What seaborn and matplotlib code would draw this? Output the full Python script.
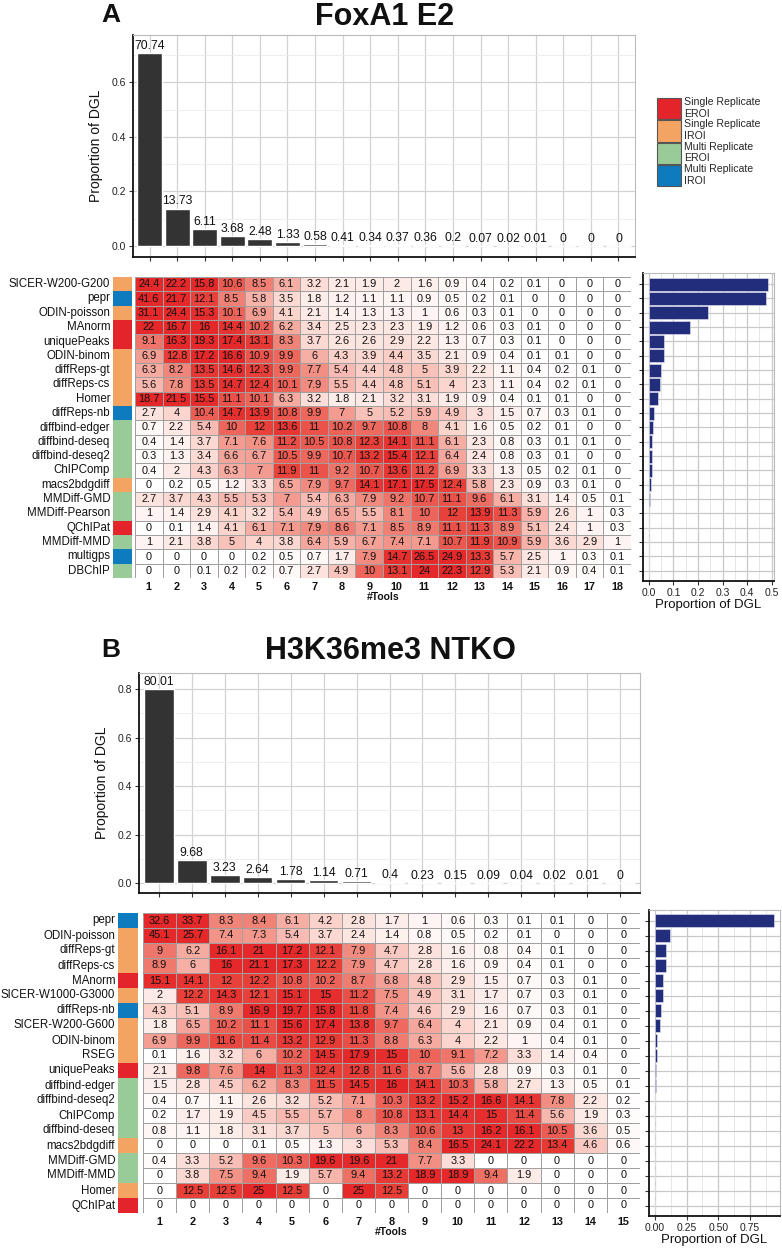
import numpy as np
import pandas as pd
import matplotlib
matplotlib.use("Agg")
import matplotlib.pyplot as plt
import seaborn as sns
from matplotlib.colors import LinearSegmentedColormap, ListedColormap
from matplotlib.ticker import MultipleLocator
from matplotlib.patches import Patch

# ---------------- data: panel A (FoxA1 E2) ----------------
a_title = "FoxA1 E2"
a_dgl_pct = [70.74, 13.73, 6.11, 3.68, 2.48, 1.33, 0.58, 0.41, 0.34, 0.37, 0.36, 0.2,
             0.07, 0.02, 0.01, 0, 0, 0]
a_tools = ["SICER-W200-G200", "pepr", "ODIN-poisson", "MAnorm", "uniquePeaks", "ODIN-binom",
           "diffReps-gt", "diffReps-cs", "Homer", "diffReps-nb", "diffbind-edger",
           "diffbind-deseq", "diffbind-deseq2", "ChIPComp", "macs2bdgdiff", "MMDiff-GMD",
           "MMDiff-Pearson", "QChIPat", "MMDiff-MMD", "multigps", "DBChIP"]
a_groups = ["SR-IROI", "MR-IROI", "SR-IROI", "SR-EROI", "SR-EROI", "SR-IROI",
            "SR-IROI", "SR-IROI", "SR-IROI", "MR-IROI", "MR-EROI",
            "MR-EROI", "MR-EROI", "MR-EROI", "SR-IROI", "MR-EROI",
            "MR-EROI", "SR-EROI", "MR-EROI", "MR-IROI", "MR-EROI"]
a_matrix = [
    [24.4, 22.2, 15.8, 10.6, 8.5, 6.1, 3.2, 2.1, 1.9, 2, 1.6, 0.9, 0.4, 0.2, 0.1, 0, 0, 0],
    [41.6, 21.7, 12.1, 8.5, 5.8, 3.5, 1.8, 1.2, 1.1, 1.1, 0.9, 0.5, 0.2, 0.1, 0, 0, 0, 0],
    [31.1, 24.4, 15.3, 10.1, 6.9, 4.1, 2.1, 1.4, 1.3, 1.3, 1, 0.6, 0.3, 0.1, 0, 0, 0, 0],
    [22, 16.7, 16, 14.4, 10.2, 6.2, 3.4, 2.5, 2.3, 2.3, 1.9, 1.2, 0.6, 0.3, 0.1, 0, 0, 0],
    [9.1, 16.3, 19.3, 17.4, 13.1, 8.3, 3.7, 2.6, 2.6, 2.9, 2.2, 1.3, 0.7, 0.3, 0.1, 0, 0, 0],
    [6.9, 12.8, 17.2, 16.6, 10.9, 9.9, 6, 4.3, 3.9, 4.4, 3.5, 2.1, 0.9, 0.4, 0.1, 0.1, 0, 0],
    [6.3, 8.2, 13.5, 14.6, 12.3, 9.9, 7.7, 5.4, 4.4, 4.8, 5, 3.9, 2.2, 1.1, 0.4, 0.2, 0.1, 0],
    [5.6, 7.8, 13.5, 14.7, 12.4, 10.1, 7.9, 5.5, 4.4, 4.8, 5.1, 4, 2.3, 1.1, 0.4, 0.2, 0.1, 0],
    [18.7, 21.5, 15.5, 11.1, 10.1, 6.3, 3.2, 1.8, 2.1, 3.2, 3.1, 1.9, 0.9, 0.4, 0.1, 0.1, 0, 0],
    [2.7, 4, 10.4, 14.7, 13.9, 10.8, 9.9, 7, 5, 5.2, 5.9, 4.9, 3, 1.5, 0.7, 0.3, 0.1, 0],
    [0.7, 2.2, 5.4, 10, 12, 13.6, 11, 10.2, 9.7, 10.8, 8, 4.1, 1.6, 0.5, 0.2, 0.1, 0, 0],
    [0.4, 1.4, 3.7, 7.1, 7.6, 11.2, 10.5, 10.8, 12.3, 14.1, 11.1, 6.1, 2.3, 0.8, 0.3, 0.1, 0.1, 0],
    [0.3, 1.3, 3.4, 6.6, 6.7, 10.5, 9.9, 10.7, 13.2, 15.4, 12.1, 6.4, 2.4, 0.8, 0.3, 0.1, 0, 0],
    [0.4, 2, 4.3, 6.3, 7, 11.9, 11, 9.2, 10.7, 13.6, 11.2, 6.9, 3.3, 1.3, 0.5, 0.2, 0.1, 0],
    [0, 0.2, 0.5, 1.2, 3.3, 6.5, 7.9, 9.7, 14.1, 17.1, 17.5, 12.4, 5.8, 2.3, 0.9, 0.3, 0.1, 0],
    [2.7, 3.7, 4.3, 5.5, 5.3, 7, 5.4, 6.3, 7.9, 9.2, 10.7, 11.1, 9.6, 6.1, 3.1, 1.4, 0.5, 0.1],
    [1, 1.4, 2.9, 4.1, 3.2, 5.4, 4.9, 6.5, 5.5, 8.1, 10, 12, 13.9, 11.3, 5.9, 2.6, 1, 0.3],
    [0, 0.1, 1.4, 4.1, 6.1, 7.1, 7.9, 8.6, 7.1, 8.5, 8.9, 11.1, 11.3, 8.9, 5.1, 2.4, 1, 0.3],
    [1, 2.1, 3.8, 5, 4, 3.8, 6.4, 5.9, 6.7, 7.4, 7.1, 10.7, 11.9, 10.9, 5.9, 3.6, 2.9, 1],
    [0, 0, 0, 0, 0.2, 0.5, 0.7, 1.7, 7.9, 14.7, 26.5, 24.9, 13.3, 5.7, 2.5, 1, 0.3, 0.1],
    [0, 0, 0.1, 0.2, 0.2, 0.7, 2.7, 4.9, 10, 13.1, 24, 22.3, 12.9, 5.3, 2.1, 0.9, 0.4, 0.1],
]
a_tool_prop = [0.485, 0.478, 0.239, 0.167, 0.062, 0.060, 0.048, 0.046, 0.039, 0.020,
               0.015, 0.013, 0.012, 0.012, 0.009, 0.003, 0.002, 0.001, 0.001, 0.0006, 0.0006]

# ---------------- data: panel B (H3K36me3 NTKO) ----------------
b_title = "H3K36me3 NTKO"
b_dgl_pct = [80.01, 9.68, 3.23, 2.64, 1.78, 1.14, 0.71, 0.4, 0.23, 0.15, 0.09, 0.04, 0.02, 0.01, 0]
b_tools = ["pepr", "ODIN-poisson", "diffReps-gt", "diffReps-cs", "MAnorm", "SICER-W1000-G3000",
           "diffReps-nb", "SICER-W200-G600", "ODIN-binom", "RSEG", "uniquePeaks",
           "diffbind-edger", "diffbind-deseq2", "ChIPComp", "diffbind-deseq", "macs2bdgdiff",
           "MMDiff-GMD", "MMDiff-MMD", "Homer", "QChIPat"]
b_groups = ["MR-IROI", "SR-IROI", "SR-IROI", "SR-IROI", "SR-EROI", "SR-IROI",
            "MR-IROI", "SR-IROI", "SR-IROI", "SR-IROI", "SR-EROI",
            "MR-EROI", "MR-EROI", "MR-EROI", "MR-EROI", "SR-IROI",
            "MR-EROI", "MR-EROI", "SR-IROI", "SR-EROI"]
b_matrix = [
    [32.6, 33.7, 8.3, 8.4, 6.1, 4.2, 2.8, 1.7, 1, 0.6, 0.3, 0.1, 0.1, 0, 0],
    [45.1, 25.7, 7.4, 7.3, 5.4, 3.7, 2.4, 1.4, 0.8, 0.5, 0.2, 0.1, 0, 0, 0],
    [9, 6.2, 16.1, 21, 17.2, 12.1, 7.9, 4.7, 2.8, 1.6, 0.8, 0.4, 0.1, 0, 0],
    [8.9, 6, 16, 21.1, 17.3, 12.2, 7.9, 4.7, 2.8, 1.6, 0.9, 0.4, 0.1, 0, 0],
    [15.1, 14.1, 12, 12.2, 10.8, 10.2, 8.7, 6.8, 4.8, 2.9, 1.5, 0.7, 0.3, 0.1, 0],
    [2, 12.2, 14.3, 12.1, 15.1, 15, 11.2, 7.5, 4.9, 3.1, 1.7, 0.7, 0.3, 0.1, 0],
    [4.3, 5.1, 8.9, 16.9, 19.7, 15.8, 11.8, 7.4, 4.6, 2.9, 1.6, 0.7, 0.3, 0.1, 0],
    [1.8, 6.5, 10.2, 11.1, 15.6, 17.4, 13.8, 9.7, 6.4, 4, 2.1, 0.9, 0.4, 0.1, 0],
    [6.9, 9.9, 11.6, 11.4, 13.2, 12.9, 11.3, 8.8, 6.3, 4, 2.2, 1, 0.4, 0.1, 0],
    [0.1, 1.6, 3.2, 6, 10.2, 14.5, 17.9, 15, 10, 9.1, 7.2, 3.3, 1.4, 0.4, 0],
    [2.1, 9.8, 7.6, 14, 11.3, 12.4, 12.8, 11.6, 8.7, 5.6, 2.8, 0.9, 0.3, 0.1, 0],
    [1.5, 2.8, 4.5, 6.2, 8.3, 11.5, 14.5, 16, 14.1, 10.3, 5.8, 2.7, 1.3, 0.5, 0.1],
    [0.4, 0.7, 1.1, 2.6, 3.2, 5.2, 7.1, 10.3, 13.2, 15.2, 16.6, 14.1, 7.8, 2.2, 0.2],
    [0.2, 1.7, 1.9, 4.5, 5.5, 5.7, 8, 10.8, 13.1, 14.4, 15, 11.4, 5.6, 1.9, 0.3],
    [0.8, 1.1, 1.8, 3.1, 3.7, 5, 6, 8.3, 10.6, 13, 16.2, 16.1, 10.5, 3.6, 0.5],
    [0, 0, 0, 0.1, 0.5, 1.3, 3, 5.3, 8.4, 16.5, 24.1, 22.2, 13.4, 4.6, 0.6],
    [0.4, 3.3, 5.2, 9.6, 10.3, 19.6, 19.6, 21, 7.7, 3.3, 0, 0, 0, 0, 0],
    [0, 3.8, 7.5, 9.4, 1.9, 5.7, 9.4, 13.2, 18.9, 18.9, 9.4, 1.9, 0, 0, 0],
    [0, 12.5, 12.5, 25, 12.5, 0, 25, 12.5, 0, 0, 0, 0, 0, 0, 0],
    [0, 0, 0, 0, 0, 0, 0, 0, 0, 0, 0, 0, 0, 0, 0],
]
b_tool_prop = [0.94, 0.12, 0.087, 0.086, 0.066, 0.062, 0.05, 0.04, 0.02, 0.014,
               0.01, 0.008, 0.004, 0.004, 0.003, 0.003, 0.001, 0.001, 0.0005, 0.0]

group_order = ["SR-EROI", "SR-IROI", "MR-EROI", "MR-IROI"]
group_labels = ["Single Replicate\nEROI", "Single Replicate\nIROI",
                "Multi Replicate\nEROI", "Multi Replicate\nIROI"]
group_colors = ["#E3242B", "#F4A462", "#98CB98", "#0D7BBE"]

# ---------------- style ----------------
sns.set_theme(style="white")
plt.rcParams["font.family"] = ["Liberation Sans", "DejaVu Sans"]

W, H = 782, 1249
fig = plt.figure(figsize=(W / 100, H / 100), dpi=100)


def ax_px(l, t, r, b):
    return fig.add_axes([l / W, 1 - b / H, (r - l) / W, (b - t) / H])


heat_cmap = LinearSegmentedColormap.from_list(
    "wr", ["#FFFFFF", "#FBD5CE", "#F2897D", "#E8413A", "#E5282A"], N=256)
strip_cmap = ListedColormap(group_colors)


def style_frame(ax):
    for s in ["left", "bottom"]:
        ax.spines[s].set_color("#111111")
        ax.spines[s].set_linewidth(1.3)
    for s in ["top", "right"]:
        ax.spines[s].set_color("#BBBBBB")
        ax.spines[s].set_linewidth(0.8)
        ax.spines[s].set_visible(True)


def top_bars(ax, pct, ylim):
    n = len(pct)
    df = pd.DataFrame({"n": [str(i) for i in range(1, n + 1)],
                       "p": np.array(pct, dtype=float) / 100})
    sns.barplot(data=df, x="n", y="p", color="#333333", saturation=1, width=0.9,
                ax=ax, errorbar=None)
    ax.set_xlim(-0.6, n - 0.4)
    ax.set_ylim(*ylim)
    ax.yaxis.set_major_locator(MultipleLocator(0.2))
    ax.yaxis.set_minor_locator(MultipleLocator(0.1))
    ax.grid(True, which="major", color="#D2D2D2", lw=0.9)
    ax.grid(True, which="minor", axis="y", color="#EBEBEB", lw=0.6)
    ax.set_axisbelow(True)
    for i, v in enumerate(pct):
        ax.text(i, v / 100 + 0.004, f"{v:g}", ha="center", va="bottom",
                fontsize=8.8, color="#111111")
    ax.set_xticklabels([])
    ax.set_xlabel("")
    ax.set_ylabel("Proportion of DGL", fontsize=10, color="#111111", labelpad=6)
    ax.tick_params(axis="both", bottom=True, left=True, length=3, width=0.8,
                   color="#333333", labelsize=7.5, labelcolor="#222222", pad=2)
    ax.tick_params(axis="y", which="minor", left=False)
    style_frame(ax)


def heat(ax, mat, ncol):
    df = pd.DataFrame(mat, columns=[str(i) for i in range(1, ncol + 1)])
    sns.heatmap(df, ax=ax, cmap=heat_cmap, vmin=0, vmax=16, annot=True, fmt="g",
                annot_kws={"fontsize": 7.9, "color": "#111111"},
                linewidths=0.5, linecolor="#A0A0A0", cbar=False, yticklabels=False)
    ax.set_xticklabels(ax.get_xticklabels(), rotation=0, fontweight="bold",
                       fontsize=7.8, color="#111111")
    ax.tick_params(axis="x", bottom=False, length=0, pad=3)
    ax.set_xlabel("#Tools", fontweight="bold", fontsize=7.5, labelpad=0,
                  color="#111111")
    ax.set_ylabel("")


def strip(ax, tools, groups):
    codes = np.array([[group_order.index(g)] for g in groups])
    df = pd.DataFrame(codes, index=tools, columns=["g"])
    sns.heatmap(df, ax=ax, cmap=strip_cmap, vmin=-0.5, vmax=3.5, cbar=False,
                xticklabels=False, yticklabels=True, linewidths=0)
    ax.set_yticklabels(tools, rotation=0, fontsize=8.3, color="#111111")
    ax.tick_params(axis="y", left=False, length=0, pad=2)
    ax.set_ylabel("")


def side_bars(ax, tools, prop, xlim, major, minor, fmt, ht, hb, top, bottom):
    n = len(tools)
    df = pd.DataFrame({"tool": tools, "p": prop})
    sns.barplot(data=df, y="tool", x="p", orient="h", color="#222D7C", saturation=1,
                width=0.9, ax=ax, errorbar=None, edgecolor="#E8E8F0", linewidth=0.4)
    r = (hb - ht) / n
    ax.set_ylim(n - 0.5 + (bottom - hb) / r, -0.5 - (ht - top) / r)
    ax.set_xlim(*xlim)
    ax.xaxis.set_major_locator(MultipleLocator(major))
    ax.xaxis.set_minor_locator(MultipleLocator(minor))
    ax.xaxis.set_major_formatter(fmt)
    ax.grid(True, which="major", color="#C8C8C8", lw=0.9)
    ax.grid(True, which="minor", axis="x", color="#E2E2E2", lw=0.6)
    ax.set_axisbelow(True)
    ax.set_yticklabels([])
    ax.set_ylabel("")
    ax.set_xlabel("Proportion of DGL", fontsize=9.5, color="#111111", labelpad=1)
    ax.tick_params(axis="both", bottom=True, left=True, length=3, width=0.8,
                   color="#333333", labelsize=7.5, labelcolor="#222222", pad=2)
    ax.tick_params(axis="x", which="minor", bottom=False)
    style_frame(ax)


# ---------------- panel A ----------------
fig.text(111 / W, 1 - 15 / H, "A", fontsize=19, fontweight="bold", ha="center",
         va="center", color="#111111")
fig.text(385 / W, 1 - 17 / H, a_title, fontsize=22, fontweight="bold", ha="center",
         va="center", color="#111111")

axA_top = ax_px(133, 35, 635, 257)
top_bars(axA_top, a_dgl_pct, (-0.04, 0.773))

fig.legend(handles=[Patch(facecolor=c, edgecolor="#555555", linewidth=0.8)
                    for c in group_colors],
           labels=group_labels, loc="upper left",
           bbox_to_anchor=(657 / W, 1 - 97 / H), frameon=False, fontsize=7.6,
           handlelength=2.3, handleheight=2.75, labelspacing=0.0, handletextpad=0.3,
           borderpad=0, borderaxespad=0)

A_ht, A_hb = 277, 578
axA_strip = ax_px(113, A_ht, 132, A_hb)
strip(axA_strip, a_tools, a_groups)
axA_heat = ax_px(135, A_ht, 631, A_hb)
heat(axA_heat, a_matrix, len(a_dgl_pct))
axA_side = ax_px(643, 273, 774, 581)
side_bars(axA_side, a_tools, a_tool_prop, (-0.024, 0.509), 0.1, 0.05, "{x:.1f}",
          A_ht, A_hb, 273, 581)

# ---------------- panel B ----------------
fig.text(111 / W, 1 - 650 / H, "B", fontsize=19, fontweight="bold", ha="center",
         va="center", color="#111111")
fig.text(390 / W, 1 - 651 / H, b_title, fontsize=22, fontweight="bold", ha="center",
         va="center", color="#111111")

axB_top = ax_px(139, 673, 640, 893)
top_bars(axB_top, b_dgl_pct, (-0.041, 0.866))

B_ht, B_hb = 913, 1213
axB_strip = ax_px(118, B_ht, 138, B_hb)
strip(axB_strip, b_tools, b_groups)
axB_heat = ax_px(143, B_ht, 640, B_hb)
heat(axB_heat, b_matrix, len(b_dgl_pct))
axB_side = ax_px(649, 910, 780, 1216)
side_bars(axB_side, b_tools, b_tool_prop, (-0.047, 0.987), 0.25, 0.125, "{x:.2f}",
          B_ht, B_hb, 910, 1216)

fig.savefig("out.png", dpi=100)
